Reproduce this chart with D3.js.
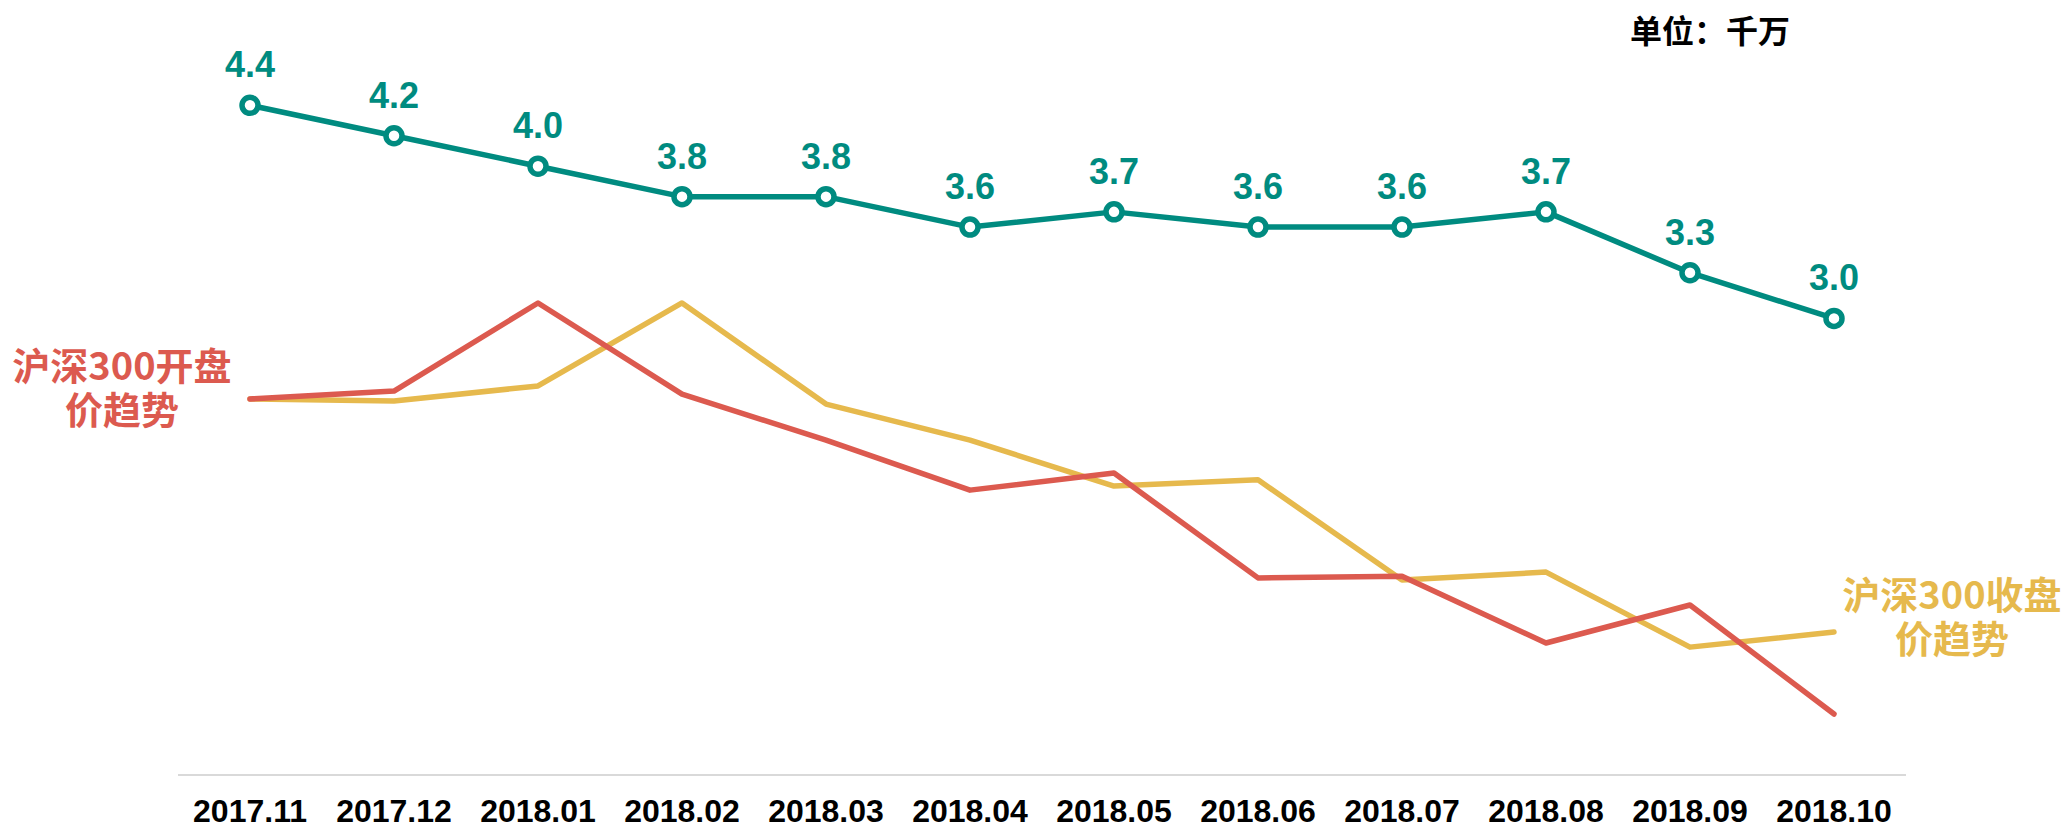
<!DOCTYPE html>
<html>
<head>
<meta charset="utf-8">
<script src="https://cdn.jsdelivr.net/npm/d3@7"></script>
<style>
  html, body { margin: 0; padding: 0; background: #fff; }
  svg { display: block; }
</style>
</head>
<body>
<div id="chart"></div>
<script>
// months on the x axis
var months = ["2017.11","2017.12","2018.01","2018.02","2018.03","2018.04",
              "2018.05","2018.06","2018.07","2018.08","2018.09","2018.10"];
// teal series, unit: 千万
var amount = [4.4, 4.2, 4.0, 3.8, 3.8, 3.6, 3.7, 3.6, 3.6, 3.7, 3.3, 3.0];
// CSI 300 open / close trend (index points)
var openIdx  = [4017, 4040, 4297, 4031, 3897, 3751, 3801, 3495, 3500, 3305, 3416, 3098];
var closeIdx = [4017, 4011, 4055, 4297, 4002, 3897, 3763, 3781, 3489, 3512, 3293, 3337];

var W = 2066, H = 827;
var plot = {left: 178, right: 1906, top: 14, bottom: 775};

var teal = "#008b80", red = "#dc5a4f", yellow = "#e6b94d";

var svg = d3.select("#chart").append("svg")
    .attr("width", W)
    .attr("height", H);

var x = d3.scaleBand()
    .domain(months)
    .range([plot.left, plot.right]);
function cx(d) { return x(d) + x.bandwidth() / 2; }

var yAmt = d3.scaleLinear()
    .domain([0, 5])
    .range([plot.bottom, plot.top]);

var yIdx = d3.scaleLinear()
    .domain([2920, 5140])
    .range([plot.bottom, plot.top]);

// baseline
svg.append("line")
    .attr("x1", plot.left).attr("x2", plot.right)
    .attr("y1", plot.bottom).attr("y2", plot.bottom)
    .attr("stroke", "#d9d9d9")
    .attr("stroke-width", 2);

// x labels
svg.append("g").selectAll("text")
    .data(months)
  .enter().append("text")
    .attr("x", function(d) { return cx(d); })
    .attr("y", 822)
    .attr("text-anchor", "middle")
    .attr("font-family", "'Liberation Sans', Arial, sans-serif")
    .attr("font-weight", "bold")
    .attr("font-size", "32px")
    .attr("fill", "#000")
    .text(function(d) { return d; });

// index lines
function idxLine(vals) {
  return d3.line()
    .x(function(d, i) { return cx(months[i]); })
    .y(function(d) { return yIdx(d); })(vals);
}

svg.append("path")
    .attr("d", idxLine(closeIdx))
    .attr("fill", "none")
    .attr("stroke", yellow)
    .attr("stroke-width", 5.5)
    .attr("stroke-linecap", "round")
    .attr("stroke-linejoin", "round");

svg.append("path")
    .attr("d", idxLine(openIdx))
    .attr("fill", "none")
    .attr("stroke", red)
    .attr("stroke-width", 5.5)
    .attr("stroke-linecap", "round")
    .attr("stroke-linejoin", "round");

// teal line with markers
svg.append("path")
    .datum(amount)
    .attr("fill", "none")
    .attr("stroke", teal)
    .attr("stroke-width", 5.5)
    .attr("stroke-linejoin", "round")
    .attr("d", d3.line()
      .x(function(d, i) { return cx(months[i]); })
      .y(function(d) { return yAmt(d); }));

svg.append("g").selectAll("circle")
    .data(amount)
  .enter().append("circle")
    .attr("cx", function(d, i) { return cx(months[i]); })
    .attr("cy", function(d) { return yAmt(d); })
    .attr("r", 8)
    .attr("fill", "#fff")
    .attr("stroke", teal)
    .attr("stroke-width", 5.5);

svg.append("g").selectAll("text")
    .data(amount)
  .enter().append("text")
    .attr("x", function(d, i) { return cx(months[i]); })
    .attr("y", function(d) { return yAmt(d) - 28; })
    .attr("text-anchor", "middle")
    .attr("font-family", "'Liberation Sans', Arial, sans-serif")
    .attr("font-weight", "bold")
    .attr("font-size", "36px")
    .attr("fill", teal)
    .text(function(d) { return d.toFixed(1); });

// series labels, one text per line
var cjk = "'Noto Sans CJK SC', sans-serif";
function seriesLabel(lines, px, py, color) {
  lines.forEach(function(s, i) {
    svg.append("text")
      .attr("x", px)
      .attr("y", py + i * 44)
      .attr("text-anchor", "middle")
      .attr("font-family", cjk)
      .attr("font-weight", 700)
      .attr("font-size", "38px")
      .attr("fill", color)
      .text(s);
  });
}
seriesLabel(["沪深300开盘", "价趋势"], 122, 380, red);
seriesLabel(["沪深300收盘", "价趋势"], 1952, 609, yellow);

// unit
svg.append("text")
    .attr("x", 1630)
    .attr("y", 43)
    .attr("font-family", cjk)
    .attr("font-weight", 700)
    .attr("font-size", "32px")
    .attr("fill", "#000")
    .text("单位：千万");
</script>
</body>
</html>
